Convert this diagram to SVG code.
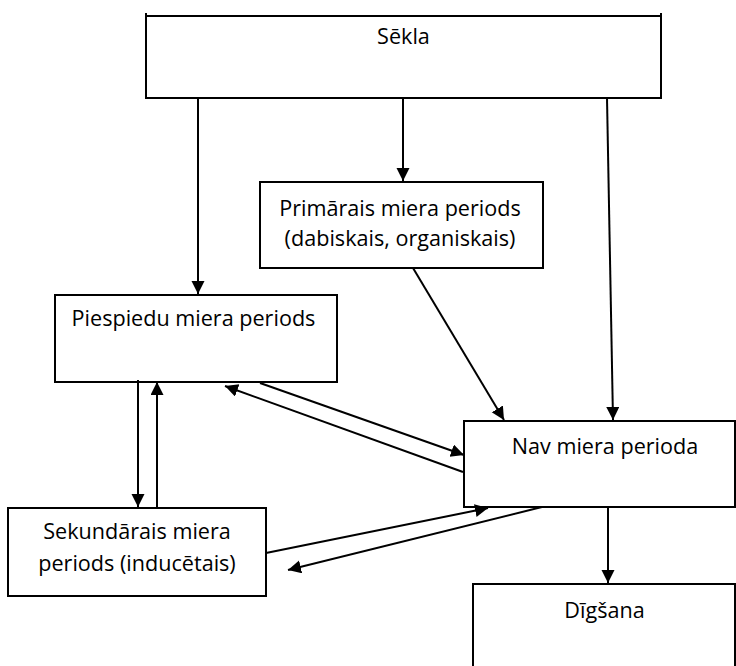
<svg xmlns="http://www.w3.org/2000/svg" width="736" height="666" viewBox="0 0 736 666">
  <defs>
    <marker id="head" markerUnits="userSpaceOnUse" markerWidth="14" markerHeight="14" refX="13" refY="6.5" orient="auto">
      <path d="M0,0 L13,6.5 L0,13 Z" fill="#000"/>
    </marker>
  </defs>
  <style>
    .box { fill: #fff; stroke: #000; stroke-width: 2; }
    .lbl { font-family: "Open Sans", "Noto Sans", sans-serif; font-size: 21.6px; fill: #000; text-anchor: middle; }
    .link { stroke: #000; stroke-width: 2; fill: none; marker-end: url(#head); }
  </style>
  <rect width="736" height="666" fill="#fff"/>

  <g id="sekla">
    <path class="box" d="M146,13 V98 H661 V13"/>
    <line x1="146" y1="16" x2="660" y2="16" stroke="#000" stroke-width="2"/>
    <text class="lbl" x="403.5" y="44">Sēkla</text>
  </g>

  <g id="primarais">
    <rect class="box" x="260" y="182" width="283" height="86"/>
    <text class="lbl" x="400" y="216">Primārais miera periods</text>
    <text class="lbl" x="400" y="246">(dabiskais, organiskais)</text>
  </g>

  <g id="piespiedu">
    <rect class="box" x="55" y="295" width="282" height="87"/>
    <text class="lbl" x="193.5" y="326">Piespiedu miera periods</text>
  </g>

  <g id="nav">
    <rect class="box" x="464" y="421" width="271" height="86"/>
    <text class="lbl" x="605" y="454">Nav miera perioda</text>
  </g>

  <g id="sekundarais">
    <rect class="box" x="8" y="508" width="258" height="88"/>
    <text class="lbl" x="137" y="539">Sekundārais miera</text>
    <text class="lbl" x="137" y="571">periods (inducētais)</text>
  </g>

  <g id="digsana">
    <rect class="box" x="473" y="584" width="262" height="100"/>
    <text class="lbl" x="604.5" y="618">Dīgšana</text>
  </g>

  <g id="connectors">
    <line class="link" x1="198" y1="98" x2="198" y2="294"/>
    <line class="link" x1="403" y1="98" x2="403" y2="181"/>
    <line class="link" x1="607" y1="98" x2="613" y2="420"/>
    <line class="link" x1="413" y1="268" x2="504" y2="420"/>
    <line class="link" x1="260" y1="383" x2="464" y2="455"/>
    <line class="link" x1="463" y1="472" x2="225" y2="386"/>
    <line class="link" x1="138" y1="380" x2="138" y2="507"/>
    <line class="link" x1="157" y1="507" x2="157" y2="382"/>
    <line class="link" x1="266" y1="553" x2="488" y2="508"/>
    <line class="link" x1="542" y1="507" x2="288" y2="570"/>
    <line class="link" x1="608" y1="507" x2="608" y2="583"/>
  </g>
</svg>
